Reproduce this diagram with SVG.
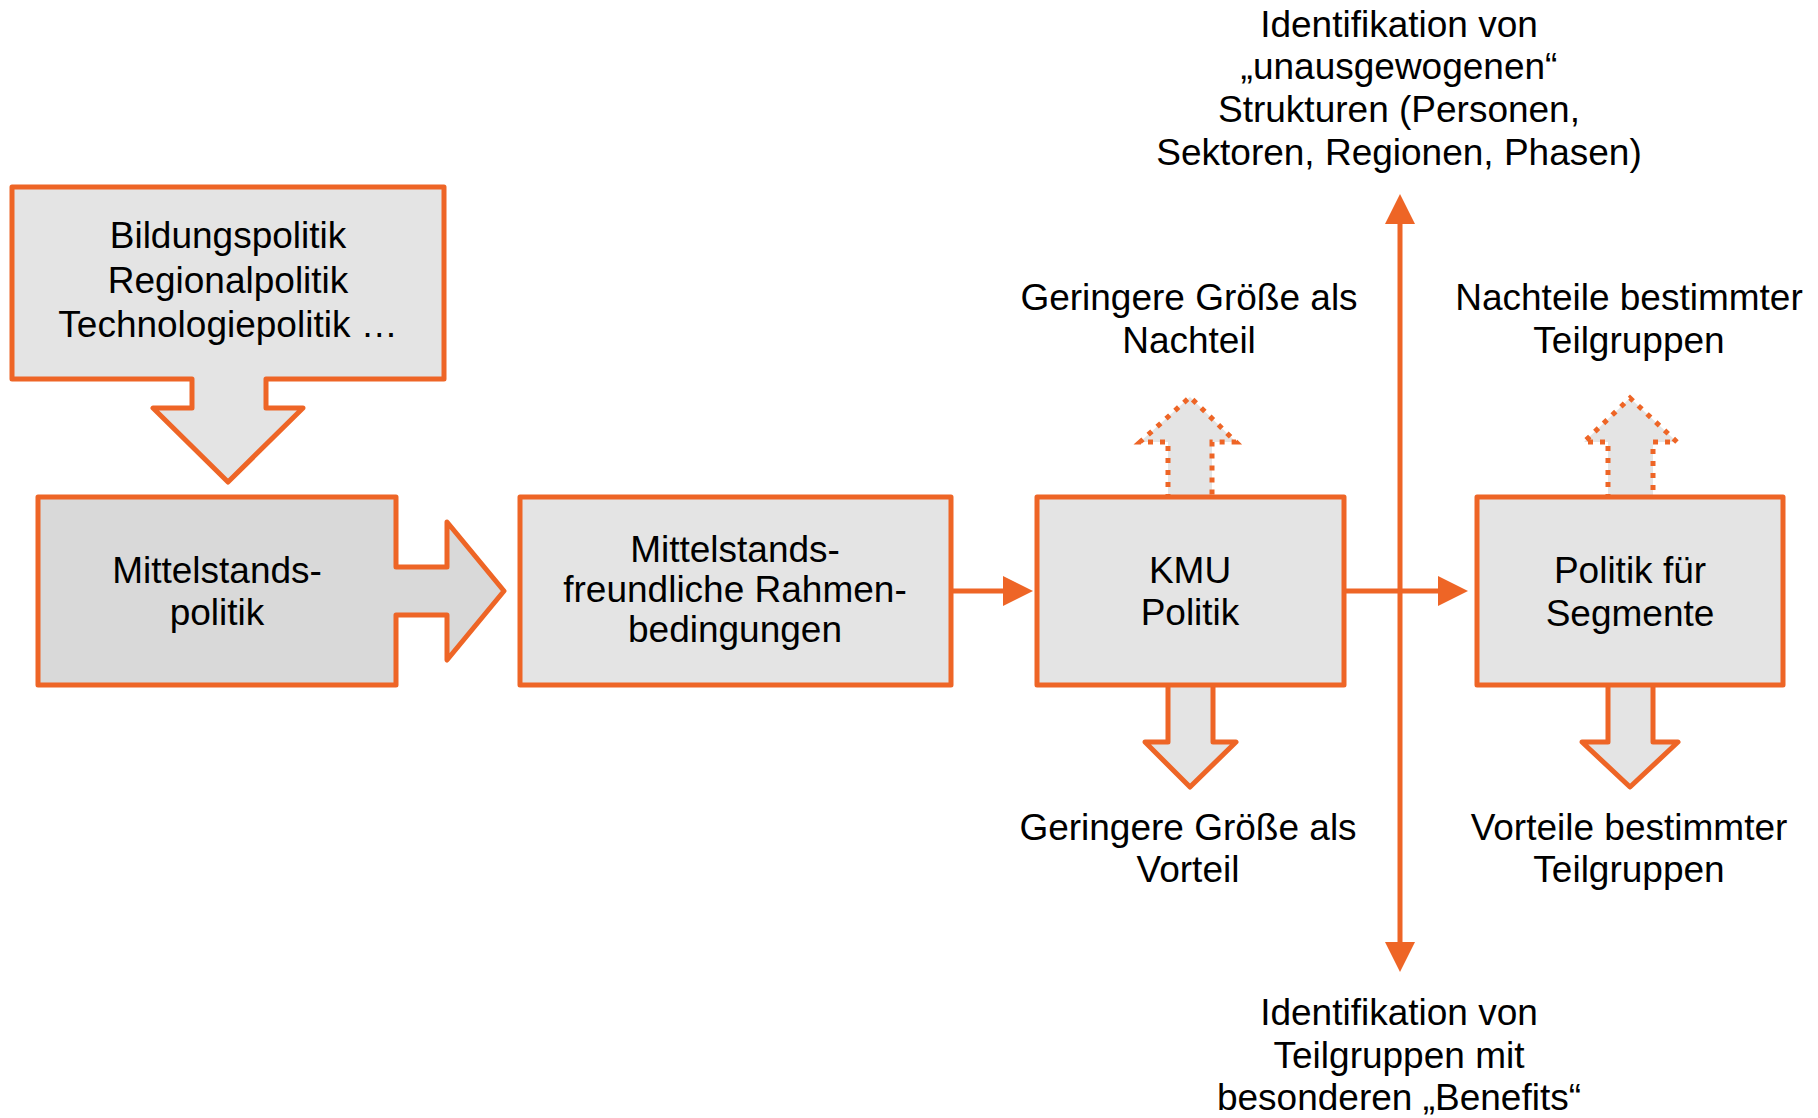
<svg xmlns="http://www.w3.org/2000/svg" width="1818" height="1118" viewBox="0 0 1818 1118">
  <style>
    .shape { stroke: #ee6526; stroke-width: 5; stroke-linejoin: round; }
    .light { fill: #e4e4e4; }
    .dark { fill: #d9d9d9; }
    .dotted { stroke: #ee6526; stroke-width: 5; stroke-dasharray: 5 7; fill: #e4e4e4; }
    .conn { stroke: #ee6526; stroke-width: 5; fill: none; }
    text { font-family: "Liberation Sans", Arial, sans-serif; font-size: 37px; fill: #000; text-anchor: middle; }
  </style>
  <defs>
    <marker id="head" viewBox="0 0 30 30" markerUnits="userSpaceOnUse" markerWidth="30" markerHeight="30" refX="0" refY="15" orient="auto">
      <path d="M0,0 L30,15 L0,30 Z" fill="#ee6526"/>
    </marker>
  </defs>
  <rect width="1818" height="1118" fill="#fff"/>

  <g id="connectors">
    <line class="conn" x1="951" y1="591" x2="1003" y2="591" marker-end="url(#head)"/>
    <line class="conn" x1="1344" y1="591" x2="1438" y2="591" marker-end="url(#head)"/>
    <line class="conn" x1="1400" y1="591" x2="1400" y2="224" marker-end="url(#head)"/>
    <line class="conn" x1="1400" y1="591" x2="1400" y2="942" marker-end="url(#head)"/>
  </g>

  <g id="policies">
    <path class="shape light" d="M12,187 L444,187 L444,379 L266,379 L266,408 L303,408 L228,482 L153,408 L192,408 L192,379 L12,379 Z"/>
    <text x="228" y="248">Bildungspolitik</text>
    <text x="228" y="293">Regionalpolitik</text>
    <text x="228" y="337">Technologiepolitik …</text>
  </g>

  <g id="mittelstandspolitik">
    <path class="shape dark" d="M38,497 L396,497 L396,567 L447,567 L447,522 L504,591 L447,660 L447,615 L396,615 L396,685 L38,685 Z"/>
    <text x="217" y="583">Mittelstands-</text>
    <text x="217" y="625">politik</text>
  </g>

  <g id="rahmenbedingungen">
    <rect class="shape light" x="520" y="497" width="431" height="188"/>
    <text x="735" y="562">Mittelstands-</text>
    <text x="735" y="602">freundliche Rahmen-</text>
    <text x="735" y="642">bedingungen</text>
  </g>

  <g id="kmu-up">
    <path class="dotted" d="M1168,499 L1168,442 L1140,442 L1190,397 L1236,442 L1212,442 L1212,499"/>
  </g>
  <g id="kmu-down">
    <path class="shape light" d="M1168,683 L1168,742 L1145,742 L1190,787 L1236,742 L1213,742 L1213,683"/>
  </g>
  <g id="kmu">
    <rect class="shape light" x="1037" y="497" width="307" height="188"/>
    <text x="1190" y="583">KMU</text>
    <text x="1190" y="625">Politik</text>
  </g>

  <g id="segmente-up">
    <path class="dotted" d="M1608,499 L1608,442 L1584,442 L1630,398 L1677,442 L1653,442 L1653,499"/>
  </g>
  <g id="segmente-down">
    <path class="shape light" d="M1608,683 L1608,742 L1582,742 L1630,787 L1678,742 L1653,742 L1653,683"/>
  </g>
  <g id="segmente">
    <rect class="shape light" x="1477" y="497" width="306" height="188"/>
    <text x="1630" y="583">Politik für</text>
    <text x="1630" y="626">Segmente</text>
  </g>

  <g id="label-top">
    <text x="1399" y="37">Identifikation von</text>
    <text x="1399" y="79">„unausgewogenen“</text>
    <text x="1399" y="122">Strukturen (Personen,</text>
    <text x="1399" y="165">Sektoren, Regionen, Phasen)</text>
  </g>
  <g id="label-kmu-nachteil">
    <text x="1189" y="310">Geringere Größe als</text>
    <text x="1189" y="353">Nachteil</text>
  </g>
  <g id="label-segmente-nachteil">
    <text x="1629" y="310">Nachteile bestimmter</text>
    <text x="1629" y="353">Teilgruppen</text>
  </g>
  <g id="label-kmu-vorteil">
    <text x="1188" y="840">Geringere Größe als</text>
    <text x="1188" y="882">Vorteil</text>
  </g>
  <g id="label-segmente-vorteil">
    <text x="1629" y="840">Vorteile bestimmter</text>
    <text x="1629" y="882">Teilgruppen</text>
  </g>
  <g id="label-bottom">
    <text x="1399" y="1025">Identifikation von</text>
    <text x="1399" y="1068">Teilgruppen mit</text>
    <text x="1399" y="1110">besonderen „Benefits“</text>
  </g>
</svg>
